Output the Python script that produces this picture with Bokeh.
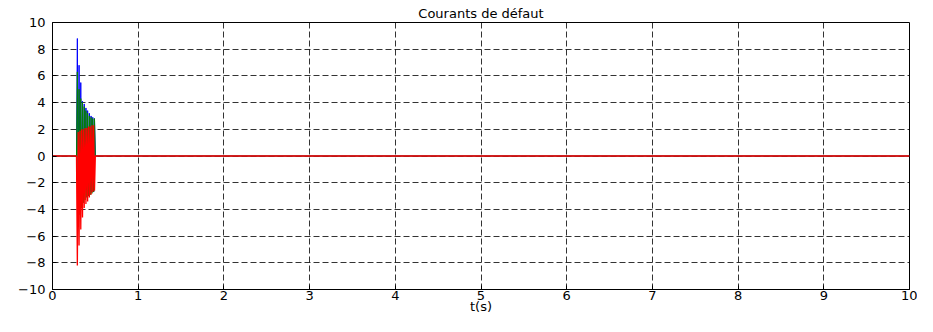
from bokeh.plotting import figure
from bokeh.embed import file_html
from bokeh.resources import INLINE
from bokeh.models import FixedTicker, Range1d

# ---- data ----
t = [0.0, 0.28, 0.29, 0.30, 0.31, 0.32, 0.33, 0.34, 0.35, 0.36, 0.37, 0.38,
     0.39, 0.40, 0.41, 0.42, 0.43, 0.44, 0.45, 0.46, 0.47, 0.48, 0.49, 0.50, 10.0]

i_blue = [0, 0, 8.8, -2.0, 6.8, -2.2, 5.5, -2.3, 4.1, -2.4, 3.9, -2.5,
          3.6, -2.5, 3.4, -2.6, 3.2, -2.6, 3.0, -2.7, 2.9, -2.7, 2.8, 0, 0]
i_green = [0, 0, 6.3, -5.0, 5.0, -4.4, 4.3, -3.9, 4.0, -3.5, 3.7, -3.3,
           3.4, -3.1, 3.2, -3.0, 3.0, -2.9, 2.9, -2.8, 2.8, -2.7, 2.8, 0, 0]
i_red = [0, 0, -8.2, 1.8, -6.7, 1.9, -5.5, 2.0, -4.6, 2.0, -3.9, 2.1,
         -3.6, 2.1, -3.4, 2.2, -3.1, 2.2, -2.9, 2.3, -2.7, 2.3, -2.6, 0, 0]

x_ticks = [0, 1, 2, 3, 4, 5, 6, 7, 8, 9, 10]
y_ticks = [-10, -8, -6, -4, -2, 0, 2, 4, 6, 8, 10]

FONT = "DejaVu Sans"

p = figure(width=917, height=316, output_backend="svg", toolbar_location=None,
           x_range=Range1d(0, 10), y_range=Range1d(-10, 10),
           title="Courants de défaut",
           min_border_left=52, min_border_right=8, min_border_top=22,
           min_border_bottom=27)

p.line(t, i_blue, line_color="#0000ff", line_width=1)
p.line(t, i_green, line_color="#008000", line_width=1)
p.line(t, i_red, line_color="#ff0000", line_width=1.3)

p.title.align = "center"
p.title.text_font = FONT
p.title.text_font_style = "normal"
p.title.text_font_size = "13px"
p.title.text_color = "black"
p.title.standoff = 4
p.title.offset = 0

p.xaxis.ticker = FixedTicker(ticks=x_ticks)
p.yaxis.ticker = FixedTicker(ticks=y_ticks)
p.xaxis.axis_label = "t(s)"
p.xaxis.axis_label_text_font = FONT
p.xaxis.axis_label_text_font_style = "normal"
p.xaxis.axis_label_text_font_size = "13px"
p.xaxis.axis_label_text_color = "black"
p.xaxis.axis_label_standoff = -4

for ax in (p.xaxis, p.yaxis):
    ax.major_label_text_font = FONT
    ax.major_label_text_font_size = "13px"
    ax.major_label_text_color = "black"
    ax.axis_line_color = "black"
    ax.major_tick_in = 4
    ax.major_tick_out = 0
    ax.minor_tick_line_color = None
    ax.major_tick_line_color = "black"
p.xaxis.major_label_standoff = 1
p.yaxis.major_label_standoff = 7

p.outline_line_color = "black"
p.outline_line_alpha = 1
p.grid.grid_line_color = "black"
p.grid.grid_line_alpha = 0.8
p.grid.grid_line_dash = "6 3"
p.background_fill_color = "white"
p.border_fill_color = "white"

open("out.html", "w").write(file_html(p, INLINE))
